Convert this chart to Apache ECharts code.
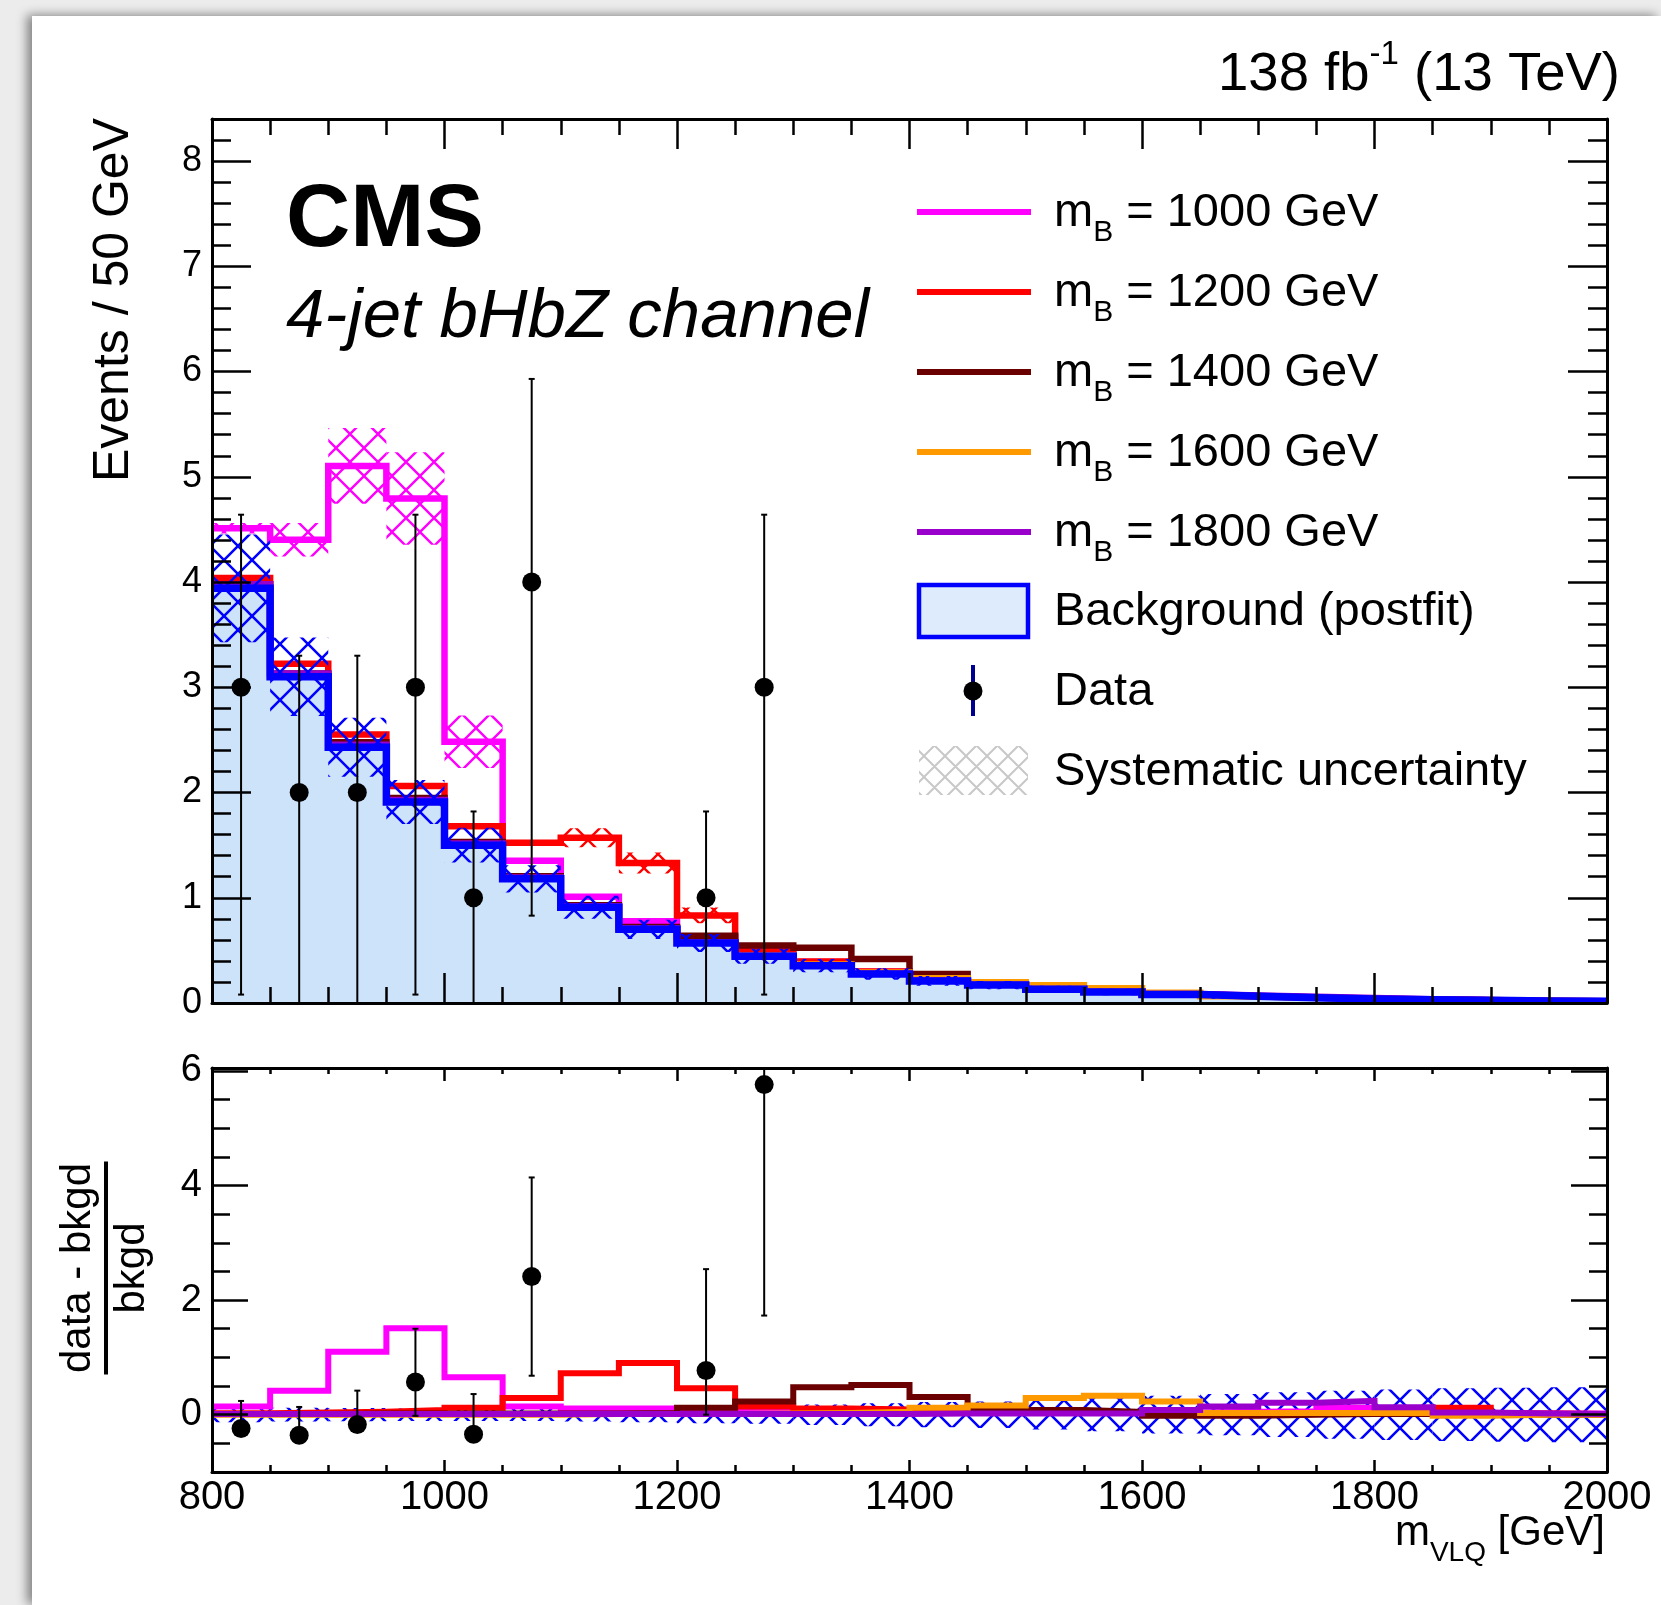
<!DOCTYPE html>
<html><head><meta charset="utf-8">
<script src="https://cdn.jsdelivr.net/npm/echarts@6/dist/echarts.min.js"></script>
<style>
html,body{margin:0;padding:0;width:1661px;height:1605px;overflow:hidden;background:#ececec;}
#paper{position:absolute;left:32px;top:16px;width:1629px;height:1589px;background:#fff;box-shadow:-5px -1px 10px rgba(0,0,0,0.45);}
#chart{position:absolute;left:0;top:0;width:1661px;height:1605px;}
</style></head>
<body><div id="paper"></div><div id="chart"></div>
<script>
// ---------------- data ----------------
const binEdges = [800,850,900,950,1000,1050,1100,1150,1200,1250,1300,1350,1400,1450,1500,1550,1600,1650,1700,1750,1800,1850,1900,1950,2000];
const bkg = [3.94,3.10,2.43,1.91,1.50,1.18,0.91,0.70,0.57,0.445,0.355,0.275,0.21,0.17,0.13,0.105,0.08,0.063,0.05,0.038,0.032,0.025,0.019,0.016];
const bkgRelErr = [0.13,0.12,0.115,0.11,0.11,0.11,0.12,0.13,0.15,0.16,0.18,0.20,0.22,0.23,0.26,0.29,0.33,0.36,0.39,0.42,0.44,0.46,0.47,0.48];
// (signal) / bkgd for each mass hypothesis
const ratio1000 = [0.145,0.42,1.10,1.51,0.655,0.145,0.11,0.11,0.09,0.08,0.10,0.08,0.06,0.05,0.05,0.04,0.04,0.05,0.06,0.12,0.05,0.03,0.02,0.02];
const ratio1200 = [0.025,0.04,0.05,0.08,0.12,0.29,0.725,0.90,0.46,0.145,0.11,0.09,0.08,0.06,0.05,0.04,0.03,0.03,0.03,0.03,0.05,0.12,0.02,0.01];
const ratio1400 = [0.01,0.01,0.02,0.02,0.02,0.02,0.02,0.03,0.12,0.23,0.48,0.52,0.31,0.08,0.08,0.05,-0.02,-0.02,0.00,0.01,0.01,0.00,0.00,0.00];
const ratio1600 = [0.00,0.00,0.00,0.00,0.00,0.00,0.01,0.01,0.01,0.02,0.03,0.05,0.12,0.16,0.29,0.33,0.23,0.03,0.03,0.03,0.03,-0.02,0.00,0.00];
const ratio1800 = [0.01,0.01,0.01,0.01,0.01,0.01,0.01,0.01,0.01,0.01,0.01,0.01,0.02,0.02,0.02,0.02,0.08,0.145,0.21,0.24,0.13,0.04,0.02,0.01];
// signal systematic half-widths (events) in the upper panel
const sigErr1000 = [0.05,0.16,0.36,0.44,0.25,0,0,0,0,0,0,0,0,0,0,0,0,0,0,0,0,0,0,0];
const sigErr1200 = [0,0,0,0,0,0,0.09,0.10,0.075,0,0,0,0,0,0,0,0,0,0,0,0,0,0,0];
// data
const dataCounts = [3,2,2,3,1,4,null,null,1,3,null,null,null,null,null,null,null,null,null,null,null,null,null,null];
const dataLo     = [0.08,0,0,0.08,0,0.83,null,null,0,0.08,null,null,null,null,null,null,null,null,null,null,null,null,null,null];
const dataHi     = [4.64,3.30,3.30,4.64,1.82,5.93,null,null,1.82,4.64,null,null,null,null,null,null,null,null,null,null,null,null,null,null];
const ratioData   = [-0.24,-0.36,-0.17,0.57,-0.34,2.41,null,null,0.77,5.76,null,null,null,null,null,null,null,null,null,null,null,null,null,null];
const ratioDataLo = [-0.24,-0.36,-0.17,-0.02,-0.34,0.68,null,null,0.0,1.73,null,null,null,null,null,null,null,null,null,null,null,null,null,null];
const ratioDataHi = [0.24,0.135,0.42,1.50,0.36,4.14,null,null,2.54,9.8,null,null,null,null,null,null,null,null,null,null,null,null,null,null];
// ticks / labels
const xMajorTicks = [800,1000,1200,1400,1600,1800,2000];
const xMinorTicks = [850,900,950,1050,1100,1150,1250,1300,1350,1450,1500,1550,1650,1700,1750,1850,1900,1950];
const yTopMajorTicks = [0,1,2,3,4,5,6,7,8];
const yTopMinorTicks = [0.2,0.4,0.6,0.8,1.2,1.4,1.6,1.8,2.2,2.4,2.6,2.8,3.2,3.4,3.6,3.8,4.2,4.4,4.6,4.8,5.2,5.4,5.6,5.8,6.2,6.4,6.6,6.8,7.2,7.4,7.6,7.8,8.2];
const yBotMajorTicks = [0,2,4,6];
const yBotMinorTicks = [-0.5,0.5,1,1.5,2.5,3,3.5,4.5,5,5.5];
const legendMasses = ['1000','1200','1400','1600','1800'];

// ---------------- styling ----------------
const FONT = '"Liberation Sans", Arial, Helvetica, sans-serif';
const COLORS = ['#ff00ff','#ff0000','#6b0000','#ff9900','#9900cc'];
const BLUE = '#0000ff', FILL = '#cde3fa';

function makeHatch(color, P, lw) {
  const c = document.createElement('canvas'); c.width = P; c.height = P;
  const g = c.getContext('2d'); g.strokeStyle = color; g.lineWidth = lw;
  g.beginPath();
  for (let k = -2; k <= 2; k++) {
    g.moveTo(k*P - P, -P); g.lineTo(k*P + 2*P, 2*P);
    g.moveTo(k*P + 2*P, -P); g.lineTo(k*P - P, 2*P);
  }
  g.stroke();
  return {image: c, repeat: 'repeat'};
}
const hatchBlue = makeHatch(BLUE, 28, 2.6);
const hatchMag = makeHatch('#ff00ff', 28, 2.4);
const hatchRed = makeHatch('#ff0000', 28, 2.4);
const hatchGray = makeHatch('#c8c8c8', 21, 2);

function stepData(vals) {
  const d = vals.map((v, i) => [binEdges[i], v]);
  d.push([binEdges[vals.length], vals[vals.length - 1]]);
  return d;
}
const ratios = [ratio1000, ratio1200, ratio1400, ratio1600, ratio1800];
const totals = ratios.map(r => bkg.map((b, i) => b * (1 + r[i])));

function stepSeries(xi, yi, vals, color, width, z, area) {
  const s = {type:'line', xAxisIndex:xi, yAxisIndex:yi, data:stepData(vals), step:'end', symbol:'none',
    z, silent:true, animation:false, lineStyle:{color, width, join:'miter', cap:'butt'}};
  if (area) { s.areaStyle = {color: FILL, opacity: 1}; s.lineStyle = {opacity: 0, width: 0}; }
  return s;
}
function bandSeries(xi, yi, rows, pattern, z) {
  return {type:'custom', xAxisIndex:xi, yAxisIndex:yi, z, silent:true, animation:false, clip:true, data:rows,
    renderItem: (params, api) => {
      const a = api.coord([api.value(0), api.value(3)]);
      const b = api.coord([api.value(1), api.value(2)]);
      return {type:'rect', shape:{x:a[0], y:a[1], width:b[0]-a[0], height:b[1]-a[1]}, style:{fill:pattern}};
    }};
}
function errSeries(xi, yi, rows, z) {
  return {type:'custom', xAxisIndex:xi, yAxisIndex:yi, z, silent:true, animation:false, data:rows,
    renderItem: (params, api) => {
      const cs = params.coordSys;
      const clampY = y => Math.max(cs.y, Math.min(cs.y + cs.height, y));
      const a = api.coord([api.value(0), api.value(1)]);
      const b = api.coord([api.value(0), api.value(2)]);
      const ya = clampY(a[1]), yb = clampY(b[1]);
      const ch = [{type:'line', shape:{x1:a[0], y1:ya, x2:b[0], y2:yb}, style:{stroke:'#000', lineWidth:2}}];
      if (ya === a[1]) ch.push({type:'line', shape:{x1:a[0]-3, y1:ya, x2:a[0]+3, y2:ya}, style:{stroke:'#000', lineWidth:2}});
      if (yb === b[1]) ch.push({type:'line', shape:{x1:b[0]-3, y1:yb, x2:b[0]+3, y2:yb}, style:{stroke:'#000', lineWidth:2}});
      return {type:'group', children: ch};
    }};
}

const bkgBandTop = bkg.map((b, i) => [binEdges[i], binEdges[i+1], b*(1-bkgRelErr[i]), b*(1+bkgRelErr[i])]);
const bkgBandBot = bkg.map((b, i) => [binEdges[i], binEdges[i+1], -bkgRelErr[i], bkgRelErr[i]]);
const sigBand = (tot, err) => tot.map((t, i) => [binEdges[i], binEdges[i+1], t - err[i], t + err[i]]).filter((r, i) => err[i] > 0);
const centers = binEdges.slice(0, 24).map(e => e + 25);
const idx = dataCounts.map((v, i) => v === null ? -1 : i).filter(i => i >= 0);
const dataPts = idx.map(i => [centers[i], dataCounts[i]]);
const dataErr = idx.map(i => [centers[i], dataLo[i], dataHi[i]]);
const rPts = idx.map(i => [centers[i], ratioData[i]]);
const rErr = idx.map(i => [centers[i], ratioDataLo[i], ratioDataHi[i]]);

// ---------------- axes ----------------
const tickStyle = {color:'#000', width:2.5};
const plain = v => String(v);
function xAx(grid, pos, ticks, len, line, label) {
  return {type:'value', gridIndex:grid, position:pos, min:800, max:2000, z:10,
    axisLine:{show:line, onZero:false, lineStyle:{color:'#000', width:3}},
    splitLine:{show:false}, minorTick:{show:false},
    axisTick:{show:true, inside:true, length:len, customValues:ticks, lineStyle:tickStyle},
    axisLabel: label ? Object.assign({show:true, customValues:ticks, color:'#000', fontFamily:FONT, formatter:plain}, label) : {show:false}};
}
function yAx(grid, pos, min, max, ticks, len, line, label) {
  return {type:'value', gridIndex:grid, position:pos, min, max, z:10,
    axisLine:{show:line, onZero:false, lineStyle:{color:'#000', width:3}},
    splitLine:{show:false}, minorTick:{show:false},
    axisTick:{show:true, inside:true, length:len, customValues:ticks, lineStyle:tickStyle},
    axisLabel: label ? Object.assign({show:true, customValues:ticks, color:'#000', fontFamily:FONT, formatter:plain}, label) : {show:false}};
}

const xAxes = [
  xAx(0,'bottom',xMajorTicks,30,true,null),
  xAx(0,'top',xMajorTicks,30,true,null),
  xAx(0,'bottom',xMinorTicks,16,false,null),
  xAx(0,'top',xMinorTicks,16,false,null),
  xAx(1,'bottom',xMajorTicks,12,true,{fontSize:40, margin:6}),
  xAx(1,'top',xMajorTicks,13,true,null),
  xAx(1,'bottom',xMinorTicks,7,false,null),
  xAx(1,'top',xMinorTicks,6,false,null)
];
const yAxes = [
  yAx(0,'left',0,8.4,yTopMajorTicks,39,true,{fontSize:36, margin:10}),
  yAx(0,'right',0,8.4,yTopMajorTicks,39,true,null),
  yAx(0,'left',0,8.4,yTopMinorTicks,19,false,null),
  yAx(0,'right',0,8.4,yTopMinorTicks,19,false,null),
  yAx(1,'left',-1,6.05,yBotMajorTicks,36,true,{fontSize:38, margin:10}),
  yAx(1,'right',-1,6.05,yBotMajorTicks,36,true,null),
  yAx(1,'left',-1,6.05,yBotMinorTicks,18,false,null),
  yAx(1,'right',-1,6.05,yBotMinorTicks,18,false,null)
];

// ---------------- series ----------------
const series = [];
series.push(stepSeries(0,0,bkg,BLUE,0,1,true));
series.push(bandSeries(0,0,sigBand(totals[0], sigErr1000), hatchMag, 2));
series.push(bandSeries(0,0,sigBand(totals[1], sigErr1200), hatchRed, 2));
totals.forEach((t, k) => series.push(stepSeries(0,0,t,COLORS[k],6.5,3+k*0.01)));
series.push(bandSeries(0,0,bkgBandTop,hatchBlue,4));
series.push(stepSeries(0,0,bkg,BLUE,7.5,5));
series.push(errSeries(0,0,dataErr,6));
series.push({type:'scatter', xAxisIndex:0, yAxisIndex:0, data:dataPts, symbol:'circle', symbolSize:19, itemStyle:{color:'#000', opacity:1}, z:7, silent:true, animation:false});

series.push(bandSeries(4,4,bkgBandBot,hatchBlue,2));
ratios.forEach((r, k) => series.push(stepSeries(4,4,r,COLORS[k],6,3+k*0.01)));
series.push(errSeries(4,4,rErr,6));
series.push({type:'scatter', xAxisIndex:4, yAxisIndex:4, data:rPts, symbol:'circle', symbolSize:19, itemStyle:{color:'#000', opacity:1}, z:7, silent:true, animation:false});

// ---------------- text & legend ----------------
const g = [];
g.push({type:'text', x:286, y:221, style:{text:'CMS', font:'bold 89px ' + FONT, fill:'#000', align:'left', verticalAlign:'middle'}});
g.push({type:'text', x:286, y:318, style:{text:'4-jet bHbZ channel', font:'italic 69px ' + FONT, fill:'#000', align:'left', verticalAlign:'middle'}});
g.push({type:'text', x:1620, y:38, style:{text:'{a|138 fb}{b|-1}{a| (13 TeV)}', align:'right', verticalAlign:'top', fill:'#000',
  rich:{a:{fontSize:54.5, fontFamily:FONT, lineHeight:54.5, padding:[9,0,0,0], verticalAlign:'top', fill:'#000'},
        b:{fontSize:33, fontFamily:FONT, lineHeight:33, verticalAlign:'top', fill:'#000'}}}});
g.push({type:'text', x:114.7, y:118, rotation:Math.PI/2, style:{text:'Events / 50 GeV', font:'50px ' + FONT, fill:'#000', align:'right', verticalAlign:'middle'}});
g.push({type:'group', x:106, y:1268, rotation:Math.PI/2, children:[
  {type:'line', shape:{x1:-106.5, y1:0, x2:106.5, y2:0}, style:{stroke:'#000', lineWidth:4}},
  {type:'text', x:0, y:-27.6, style:{text:'data - bkgd', font:'42px ' + FONT, fill:'#000', align:'center', verticalAlign:'middle'}},
  {type:'text', x:0, y:26.4, style:{text:'bkgd', font:'42px ' + FONT, fill:'#000', align:'center', verticalAlign:'middle'}}
]});
g.push({type:'text', x:1605, y:1512.5, style:{text:'{m|m}{s|VLQ}{m| [GeV]}', align:'right', verticalAlign:'top', fill:'#000',
  rich:{m:{fontSize:42, fontFamily:FONT, lineHeight:42, verticalAlign:'top', fill:'#000'},
        s:{fontSize:28, fontFamily:FONT, lineHeight:28, padding:[27,0,0,0], verticalAlign:'top', fill:'#000'}}}});

const rowY = [212, 292, 372, 452, 532, 611, 691, 771];
legendMasses.forEach((m, k) => {
  g.push({type:'line', shape:{x1:917, y1:rowY[k], x2:1031, y2:rowY[k]}, style:{stroke:COLORS[k], lineWidth:6}});
  g.push({type:'text', x:1054, y:rowY[k]-22.5, style:{text:'{m|m}{s|B}{m| = ' + m + ' GeV}', align:'left', verticalAlign:'top', fill:'#000',
    rich:{m:{fontSize:47, fontFamily:FONT, lineHeight:47, verticalAlign:'top', fill:'#000'},
          s:{fontSize:30, fontFamily:FONT, lineHeight:30, padding:[28.4,0,0,0], verticalAlign:'top', fill:'#000'}}}});
});
g.push({type:'rect', shape:{x:919, y:585, width:109, height:52}, style:{fill:'#ddebfc', stroke:BLUE, lineWidth:4.5}});
g.push({type:'text', x:1054, y:rowY[5]+1, style:{text:'Background (postfit)', font:'47px ' + FONT, fill:'#000', align:'left', verticalAlign:'middle'}});
g.push({type:'line', shape:{x1:973, y1:665, x2:973, y2:716}, style:{stroke:'#000090', lineWidth:4}});
g.push({type:'circle', shape:{cx:973, cy:691, r:9.5}, style:{fill:'#000'}});
g.push({type:'text', x:1054, y:rowY[6]+1, style:{text:'Data', font:'47px ' + FONT, fill:'#000', align:'left', verticalAlign:'middle'}});
g.push({type:'rect', shape:{x:919, y:746, width:109, height:49}, style:{fill:hatchGray}});
g.push({type:'text', x:1054, y:rowY[7]+1, style:{text:'Systematic uncertainty', font:'47px ' + FONT, fill:'#000', align:'left', verticalAlign:'middle'}});

const chart = echarts.init(document.getElementById('chart'), null, {renderer:'canvas', width:1661, height:1605});
chart.setOption({
  animation:false,
  backgroundColor:'transparent',
  grid:[{left:212, top:119, width:1395, height:884}, {left:212, top:1068, width:1395, height:404}],
  xAxis:xAxes, yAxis:yAxes, series, graphic:{elements:g}
});
</script>
</body></html>
